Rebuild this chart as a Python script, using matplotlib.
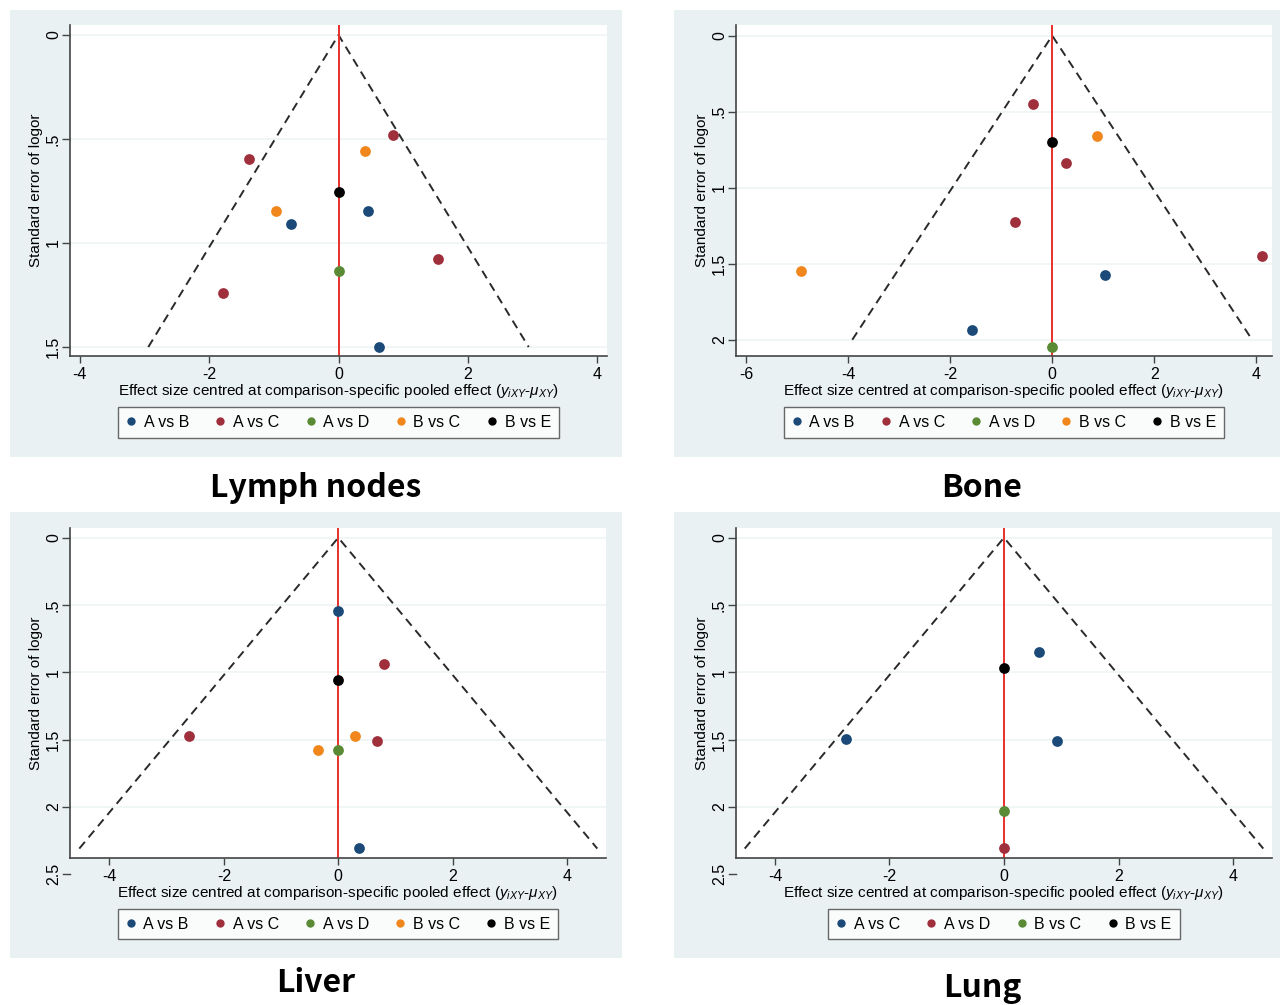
import numpy as np
import matplotlib.pyplot as plt
import matplotlib.transforms as mtransforms
from matplotlib.lines import Line2D
from matplotlib.patches import Rectangle

plt.rcParams['font.family'] = ['Liberation Sans', 'DejaVu Sans']
plt.rcParams['mathtext.fontset'] = 'custom'
plt.rcParams['mathtext.rm'] = 'Liberation Sans'
plt.rcParams['mathtext.it'] = 'Liberation Sans:italic'

# comparisons shown in each legend
comps_main = ["A vs B", "A vs C", "A vs D", "B vs C", "B vs E"]
comps_lung = ["A vs C", "A vs D", "B vs C", "B vs E"]
colors_main = ["#1c4a78", "#a02f3c", "#5a8a34", "#f0861c", "#000000"]
colors_lung = ["#1c4a78", "#a02f3c", "#5a8a34", "#000000"]

# Lymph nodes: effect (centred), standard error, comparison
lymph_eff = [-0.74, 0.45, 0.62, -1.39, -1.79, 0.84, 1.54, 0.0, -0.97, 0.41, 0.0]
lymph_se = [0.909, 0.848, 1.50, 0.596, 1.242, 0.481, 1.078, 1.133, 0.847, 0.558, 0.753]
lymph_cmp = ["A vs B", "A vs B", "A vs B", "A vs C", "A vs C", "A vs C", "A vs C",
             "A vs D", "B vs C", "B vs C", "B vs E"]

# Bone
bone_eff = [-1.58, 1.04, -0.38, 0.27, -0.72, 4.12, 0.0, -4.92, 0.88, 0.0]
bone_se = [1.936, 1.574, 0.451, 0.838, 1.226, 1.449, 2.046, 1.548, 0.660, 0.699]
bone_cmp = ["A vs B", "A vs B", "A vs C", "A vs C", "A vs C", "A vs C",
            "A vs D", "B vs C", "B vs C", "B vs E"]

# Liver
liver_eff = [0.0, 0.37, -2.61, 0.80, 0.67, 0.0, -0.35, 0.29, 0.0]
liver_se = [0.544, 2.309, 1.477, 0.938, 1.509, 1.576, 1.576, 1.477, 1.056]
liver_cmp = ["A vs B", "A vs B", "A vs C", "A vs C", "A vs C", "A vs D",
             "B vs C", "B vs C", "B vs E"]

# Lung
lung_eff = [-2.76, 0.61, 0.92, 0.0, 0.0, 0.0]
lung_se = [1.494, 0.846, 1.509, 2.309, 2.034, 0.965]
lung_cmp = ["A vs C", "A vs C", "A vs C", "A vs D", "B vs C", "B vs E"]

# largest SE of the pseudo 95% CI funnel
funnel_max = [1.5, 2.0, 2.31, 2.31]
titles = ["Lymph nodes", "Bone", "Liver", "Lung"]

W, H = 1280, 1005
fig = plt.figure(figsize=(12.8, 10.05), dpi=100)
fig.patch.set_facecolor("white")

bg = "#e9f1f3"
grid_c = "#edf3f5"


def px_rect(x0, y0, x1, y1):
    return [x0 / W, 1 - y1 / H, (x1 - x0) / W, (y1 - y0) / H]


# panel backgrounds
for (x0, y0, x1, y1) in [(10, 10, 622, 457), (674, 10, 1280, 457),
                         (10, 512, 622, 958), (674, 512, 1280, 958)]:
    fig.patches.append(Rectangle((x0 / W, 1 - y1 / H), (x1 - x0) / W, (y1 - y0) / H,
                                 transform=fig.transFigure, facecolor=bg,
                                 edgecolor="none", zorder=-5))

panels = [
    (lymph_eff, lymph_se, lymph_cmp, comps_main, colors_main,
     px_rect(70, 25, 607, 356), (-4.15, 4.15), (1.543, -0.048), [0, 0.5, 1, 1.5]),
    (bone_eff, bone_se, bone_cmp, comps_main, colors_main,
     px_rect(736, 25, 1272, 356), (-6.2, 4.31), (2.107, -0.07), [0, 0.5, 1, 1.5, 2]),
    (liver_eff, liver_se, liver_cmp, comps_main, colors_main,
     px_rect(70, 528, 606, 858), (-4.69, 4.68), (2.38, -0.072), [0, 0.5, 1, 1.5, 2]),
    (lung_eff, lung_se, lung_cmp, comps_lung, colors_lung,
     px_rect(736, 528, 1272, 858), (-4.68, 4.68), (2.38, -0.072), [0, 0.5, 1, 1.5, 2]),
]


def fmt(v):
    s = ("%g" % v)
    return s[1:] if s.startswith("0.") else s


for i, (eff, se, cmp_, comps, cols, rect, xl, yl, yt) in enumerate(panels):
    ax = fig.add_axes(rect)
    ax.set_facecolor("white")
    ax.set_xlim(*xl)
    ax.set_ylim(*yl)
    for v in yt:
        ax.axhline(v, color=grid_c, lw=1.2, zorder=0)

    # funnel and reference line
    m = funnel_max[i]
    ax.plot([-1.96 * m, 0, 1.96 * m], [m, 0, m], color="#2a2a2a", lw=1.4,
            ls=(0, (4.5, 3)), zorder=2)
    ax.axvline(0, color="#e8302a", lw=1.4, zorder=2)

    eff = np.array(eff)
    se = np.array(se)
    cmp_ = np.array(cmp_)
    for c, col in zip(comps, cols):
        sel = cmp_ == c
        ax.scatter(eff[sel], se[sel], s=60, color=col, linewidths=0, zorder=3)

    ax.set_yticks(yt)
    ax.set_yticklabels([fmt(v) for v in yt])
    ax.set_xticks([t for t in range(-6, 6, 2) if xl[0] <= t <= xl[1]])
    ax.set_xticklabels([str(t) for t in range(-6, 6, 2) if xl[0] <= t <= xl[1]])
    ax.tick_params(axis="y", labelrotation=90, length=6, width=1, color="#444444",
                   labelsize=11.5, pad=0.5)
    for lab in ax.get_yticklabels():
        lab.set_va("center")
    ax.tick_params(axis="x", length=5, width=1, color="#444444", labelsize=11.5, pad=3)
    for s in ["top", "right"]:
        ax.spines[s].set_visible(False)
    for s in ["left", "bottom"]:
        ax.spines[s].set_color("#444444")
        ax.spines[s].set_linewidth(1.2)

    if yl[0] > 2.3:
        tr = mtransforms.blended_transform_factory(ax.transAxes, ax.transData)
        ax.plot([-0.013, 0.0], [2.5, 2.5], transform=tr, color="#444444", lw=1,
                clip_on=False)
        ax.text(-0.03, 2.5, "2.5", transform=tr, rotation=90, ha="center",
                va="center", fontsize=11.5, clip_on=False)

    ax.set_ylabel("Standard error of logor", fontsize=11, labelpad=2)
    ax.set_xlabel(r"Effect size centred at comparison-specific pooled effect "
                  r"($y_{iXY}$-$\mu_{XY}$)", fontsize=11, labelpad=0)

    handles = [Line2D([], [], marker="o", ls="", color=col, markersize=6,
                      markeredgewidth=0) for col in cols]
    leg = ax.legend(handles, comps, loc="center", bbox_to_anchor=(0.5, -0.2),
                    ncol=len(comps), frameon=True, fancybox=False, fontsize=11.5,
                    handlelength=0.6, handletextpad=0.5, columnspacing=1.65,
                    borderpad=0.5, borderaxespad=0)
    leg.get_frame().set_edgecolor("#444444")
    leg.get_frame().set_linewidth(1.0)

# panel titles
for t, (x, y) in zip(titles, [(316, 497), (982, 497), (316, 992), (982, 997)]):
    fig.text(x / W, 1 - y / H, t, ha="center", va="baseline", fontsize=23,
             fontweight="bold", family=["Noto Sans CJK SC", "DejaVu Sans"])

fig.savefig("out.png", dpi=100)
